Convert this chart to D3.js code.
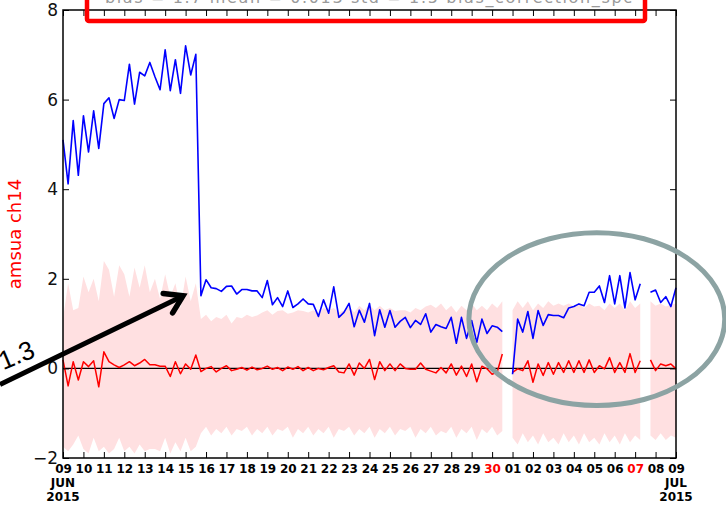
<!DOCTYPE html>
<html>
<head>
<meta charset="utf-8">
<script src="https://cdn.jsdelivr.net/npm/d3@7"></script>
<style>
  html, body { margin: 0; padding: 0; background: #ffffff; }
  svg { display: block; }
</style>
</head>
<body>
<svg id="chart" width="726" height="505"></svg>
<script>
// ---- data: 6-hourly values, 09 Jun 00Z .. 09 Jul 00Z (null = no data) ----
const stepHours = 6;
const startTime = Date.UTC(2015, 5, 9, 0);

// blue trace
const biasValues = [
  5.10, 4.12, 5.53, 4.31, 5.64, 4.83, 5.75, 4.91, 5.91, 6.04,
  5.58, 6.00, 5.98, 6.79, 5.90, 6.61, 6.53, 6.83, 6.51, 6.22,
  7.11, 6.20, 6.89, 6.14, 7.20, 6.55, 7.01, 1.62, 1.98, 1.80,
  1.78, 1.72, 1.83, 1.84, 1.66, 1.76, 1.76, 1.73, 1.73, 1.58,
  1.96, 1.42, 1.58, 1.38, 1.73, 1.36, 1.44, 1.55, 1.44, 1.43,
  1.16, 1.53, 1.23, 1.82, 1.14, 1.25, 1.45, 0.93, 1.30, 1.03,
  1.45, 0.73, 1.31, 0.92, 1.29, 0.92, 1.05, 1.14, 0.91, 1.07,
  0.98, 1.22, 0.81, 0.98, 0.93, 0.89, 1.14, 0.56, 1.14, 0.67,
  1.07, 0.58, 1.10, 0.78, 0.95, 0.92, 0.82, null, -0.13, 1.10,
  0.81, 1.27, 0.67, 1.29, 0.96, 1.20, 1.18, 1.18, 1.13, 1.35,
  1.38, 1.44, 1.40, 1.70, 1.70, 1.84, 1.47, 2.07, 1.44, 2.07,
  1.35, 2.14, 1.53, 1.89, null, 1.70, 1.75, 1.47, 1.60, 1.38,
  1.80
];

// red trace
const meanValues = [
  0.19, -0.39, 0.15, -0.26, 0.15, 0.04, 0.17, -0.41, 0.37, 0.15,
  0.08, 0.02, 0.08, 0.15, 0.06, 0.12, 0.20, 0.08, 0.08, 0.05,
  0.05, -0.18, 0.15, -0.12, 0.10, -0.02, 0.30, -0.07, 0.00, 0.04,
  -0.08, 0.00, 0.06, -0.05, -0.02, 0.02, -0.04, 0.03, -0.03, 0.00,
  0.05, -0.02, 0.02, -0.05, 0.03, -0.02, 0.04, -0.05, 0.02, -0.05,
  0.00, -0.03, 0.02, 0.06, -0.08, -0.10, 0.10, -0.15, 0.12, 0.00,
  0.20, -0.25, 0.15, -0.05, 0.10, -0.05, 0.10, 0.00, -0.02, -0.02,
  0.12, -0.02, -0.06, -0.10, 0.02, -0.10, 0.10, -0.15, 0.05, -0.18,
  0.10, -0.30, 0.05, -0.01, -0.13, -0.08, 0.32, null, -0.09, -0.01,
  -0.05, 0.17, -0.31, 0.10, -0.16, 0.13, -0.13, 0.13, -0.09, 0.17,
  -0.09, 0.17, -0.09, 0.19, -0.09, 0.06, -0.01, 0.24, -0.09, 0.13,
  -0.09, 0.33, -0.09, 0.17, null, 0.19, -0.05, 0.10, 0.06, 0.10,
  -0.01
];

// shaded spread: upper and lower edges
const spreadUpper = [
  1.10, 1.90, 1.30, 1.35, 2.05, 1.70, 2.00, 1.50, 2.40, 2.20,
  1.60, 2.30, 2.10, 1.60, 2.25, 1.80, 2.30, 1.70, 2.00, 1.55,
  2.10, 1.60, 1.90, 1.35, 2.05, 1.50, 1.90, 1.10, 1.20, 1.05,
  1.15, 1.10, 1.20, 1.00, 1.15, 1.12, 1.20, 1.15, 1.18, 1.25,
  1.30, 1.20, 1.28, 1.30, 1.22, 1.25, 1.30, 1.28, 1.25, 1.30,
  1.22, 1.35, 1.30, 1.35, 1.25, 1.30, 1.38, 1.25, 1.40, 1.30,
  1.42, 1.30, 1.40, 1.30, 1.35, 1.28, 1.30, 1.30, 1.25, 1.35,
  1.30, 1.38, 1.42, 1.35, 1.45, 1.30, 1.40, 1.25, 1.40, 1.30,
  1.45, 1.30, 1.40, 1.30, 1.45, 1.35, 1.50, null, 1.30, 1.50,
  1.35, 1.50, 1.30, 1.45, 1.35, 1.50, 1.40, 1.45, 1.40, 1.45,
  1.38, 1.45, 1.35, 1.45, 1.38, 1.40, 1.30, 1.45, 1.35, 1.45,
  1.30, 1.50, 1.35, 1.45, null, 1.50, 1.40, 1.45, 1.38, 1.42,
  1.45
];
const spreadLower = [
  -1.75, -1.85, -1.70, -1.50, -1.80, -1.90, -1.55, -1.85, -1.75, -1.90,
  -1.80, -1.55, -1.85, -1.75, -1.90, -1.70, -1.85, -1.80, -1.80, -1.85,
  -1.55, -1.90, -1.65, -1.85, -1.55, -1.85, -1.75, -1.45, -1.30, -1.50,
  -1.35, -1.45, -1.30, -1.50, -1.35, -1.40, -1.30, -1.50, -1.35, -1.45,
  -1.30, -1.50, -1.35, -1.40, -1.30, -1.55, -1.35, -1.45, -1.30, -1.50,
  -1.35, -1.45, -1.30, -1.55, -1.35, -1.40, -1.30, -1.50, -1.35, -1.45,
  -1.30, -1.55, -1.35, -1.45, -1.30, -1.50, -1.35, -1.40, -1.30, -1.55,
  -1.35, -1.45, -1.30, -1.50, -1.40, -1.45, -1.30, -1.55, -1.35, -1.45,
  -1.30, -1.60, -1.35, -1.45, -1.30, -1.50, -1.40, null, -1.55, -1.70,
  -1.45, -1.65, -1.50, -1.70, -1.45, -1.65, -1.55, -1.70, -1.45, -1.65,
  -1.50, -1.70, -1.45, -1.65, -1.55, -1.70, -1.45, -1.65, -1.50, -1.70,
  -1.45, -1.65, -1.50, -1.60, null, -1.50, -1.60, -1.45, -1.60, -1.50,
  -1.55
];

// axis ticks and labels
const yTicks = [-2, 0, 2, 4, 6, 8];
const dayTickDates = [
  "2015-06-09","2015-06-10","2015-06-11","2015-06-12","2015-06-13","2015-06-14",
  "2015-06-15","2015-06-16","2015-06-17","2015-06-18","2015-06-19","2015-06-20",
  "2015-06-21","2015-06-22","2015-06-23","2015-06-24","2015-06-25","2015-06-26",
  "2015-06-27","2015-06-28","2015-06-29","2015-06-30","2015-07-01","2015-07-02",
  "2015-07-03","2015-07-04","2015-07-05","2015-07-06","2015-07-07","2015-07-08",
  "2015-07-09"
];
const redTickDates = ["2015-06-30", "2015-07-07"];
const monthTickLabels = [
  { date: "2015-06-09", lines: ["JUN", "2015"] },
  { date: "2015-07-09", lines: ["JUL", "2015"] }
];
const yAxisLabel = "amsua ch14";
const headerText = "bias = 1.7     mean = 0.013     std = 1.5     bias_correction_spc";
const arrowLabel = "1.3";

// ---- layout ----
const plot = { left: 63, right: 676, top: 10, bottom: 458 };
const svg = d3.select("#chart");

const parseDay = d3.utcParse("%Y-%m-%d");
const dayDates = dayTickDates.map(parseDay);

const x = d3.scaleUtc()
  .domain([parseDay("2015-06-09"), parseDay("2015-07-09")])
  .range([plot.left, plot.right]);
const y = d3.scaleLinear().domain([-2, 8]).range([plot.bottom, plot.top]);

const timeAt = i => new Date(startTime + i * stepHours * 3600 * 1000);
const rows = biasValues.map((b, i) => ({
  t: timeAt(i), bias: b, mean: meanValues[i], hi: spreadUpper[i], lo: spreadLower[i]
}));

// ---- spread band ----
const band = d3.area()
  .defined(d => d.hi != null && d.lo != null)
  .x(d => x(d.t))
  .y0(d => y(d.lo))
  .y1(d => y(d.hi));
svg.append("path").datum(rows)
  .attr("d", band)
  .attr("fill", "#ffe0e1")
  .attr("stroke", "none");

// zero line
svg.append("line")
  .attr("x1", plot.left).attr("x2", plot.right)
  .attr("y1", y(0)).attr("y2", y(0))
  .attr("stroke", "#000").attr("stroke-width", 1.4);

// ---- traces ----
const lineOf = key => d3.line()
  .defined(d => d[key] != null)
  .x(d => x(d.t))
  .y(d => y(d[key]));

svg.append("path").datum(rows)
  .attr("d", lineOf("mean"))
  .attr("fill", "none").attr("stroke", "#ff0000")
  .attr("stroke-width", 1.5).attr("stroke-linejoin", "round");

svg.append("path").datum(rows)
  .attr("d", lineOf("bias"))
  .attr("fill", "none").attr("stroke", "#0000ff")
  .attr("stroke-width", 1.6).attr("stroke-linejoin", "round");

// ---- axes ----
const tickLen = 6;
const axisBottom = d3.axisBottom(x).tickValues(dayDates).tickSizeInner(-tickLen).tickSizeOuter(0)
  .tickPadding(6).tickFormat(d3.utcFormat("%d"));
const gx = svg.append("g").attr("transform", `translate(0,${plot.bottom})`).call(axisBottom);
gx.select(".domain").remove();
gx.selectAll("line").attr("stroke", "#000").attr("stroke-width", 1);
gx.selectAll("text")
  .attr("font-family", "DejaVu Sans, sans-serif")
  .attr("font-size", 12)
  .attr("font-weight", "bold")
  .attr("fill", d => redTickDates.includes(d3.utcFormat("%Y-%m-%d")(d)) ? "#ff0000" : "#000");

const axisTop = d3.axisTop(x).tickValues(dayDates).tickSizeInner(-tickLen).tickSizeOuter(0).tickFormat("");
const gxt = svg.append("g").attr("transform", `translate(0,${plot.top})`).call(axisTop);
gxt.select(".domain").remove();
gxt.selectAll("line").attr("stroke", "#000").attr("stroke-width", 1);

const axisLeft = d3.axisLeft(y).tickValues(yTicks).tickSizeInner(-tickLen).tickSizeOuter(0).tickPadding(5);
const gy = svg.append("g").attr("transform", `translate(${plot.left},0)`).call(axisLeft);
gy.select(".domain").remove();
gy.selectAll("line").attr("stroke", "#000").attr("stroke-width", 1);
gy.selectAll("text")
  .attr("font-family", "DejaVu Sans, sans-serif")
  .attr("font-size", 17)
  .attr("fill", "#111");

const axisRight = d3.axisRight(y).tickValues(yTicks).tickSizeInner(-tickLen).tickSizeOuter(0).tickFormat("");
const gyr = svg.append("g").attr("transform", `translate(${plot.right},0)`).call(axisRight);
gyr.select(".domain").remove();
gyr.selectAll("line").attr("stroke", "#000").attr("stroke-width", 1);

// month / year labels under the end ticks
monthTickLabels.forEach(m => {
  const t = svg.append("text")
    .attr("x", x(parseDay(m.date)))
    .attr("y", plot.bottom + 29)
    .attr("text-anchor", "middle")
    .attr("font-family", "DejaVu Sans, sans-serif")
    .attr("font-size", 12)
    .attr("font-weight", "bold")
    .attr("fill", "#000");
  m.lines.forEach((s, k) => t.append("tspan")
    .attr("x", x(parseDay(m.date)))
    .attr("dy", k === 0 ? 0 : 14)
    .text(s));
});

// frame
svg.append("rect")
  .attr("x", plot.left).attr("y", plot.top)
  .attr("width", plot.right - plot.left).attr("height", plot.bottom - plot.top)
  .attr("fill", "none").attr("stroke", "#000").attr("stroke-width", 1.5);

// y-axis title
svg.append("text")
  .attr("transform", `translate(21,${(plot.top + plot.bottom) / 2 - 0}) rotate(-90)`)
  .attr("text-anchor", "middle")
  .attr("font-family", "DejaVu Sans, sans-serif")
  .attr("font-size", 18)
  .attr("fill", "#ff0000")
  .text(yAxisLabel);

// header line (runs off the top edge)
svg.append("text")
  .attr("x", 105).attr("y", 3)
  .attr("font-family", "DejaVu Sans, sans-serif")
  .attr("font-size", 16)
  .attr("fill", "#9a9a9a")
  .attr("textLength", 527)
  .text(headerText);

// highlight box around the header
svg.append("rect")
  .attr("x", 87).attr("y", -20)
  .attr("width", 558).attr("height", 41)
  .attr("rx", 2)
  .attr("fill", "none").attr("stroke", "#ff0000").attr("stroke-width", 4.5);

// ---- annotations ----
// ellipse around the early-July recovery
const ellCenter = { t: Date.UTC(2015, 6, 5, 3), v: 1.1 };
const ellSpan = { days: 6.26, v: 1.93 };
const cx = x(new Date(ellCenter.t)), cy = y(ellCenter.v);
const rx = x(new Date(ellCenter.t + ellSpan.days * 864e5)) - cx;
const ry = y(0) - y(ellSpan.v);
svg.append("ellipse")
  .attr("cx", cx).attr("cy", cy).attr("rx", rx).attr("ry", ry)
  .attr("fill", "none").attr("stroke", "#8ca3a3").attr("stroke-width", 5);

// arrow pointing at the spread on 15 Jun
const arrowTail = { t: Date.UTC(2015, 5, 5, 22), v: -0.36 };
const arrowTip = { t: Date.UTC(2015, 5, 14, 21), v: 1.62 };
const tx0 = x(new Date(arrowTail.t)), ty0 = y(arrowTail.v);
const tx1 = x(new Date(arrowTip.t)), ty1 = y(arrowTip.v);
const ang = Math.atan2(ty1 - ty0, tx1 - tx0);
svg.append("line")
  .attr("x1", tx0).attr("y1", ty0)
  .attr("x2", tx1 - 3 * Math.cos(ang)).attr("y2", ty1 - 3 * Math.sin(ang))
  .attr("stroke", "#000").attr("stroke-width", 5);
const headLen = 20, headAng = Math.PI / 5.5;
const wing = s => [tx1 - headLen * Math.cos(ang + s * headAng), ty1 - headLen * Math.sin(ang + s * headAng)];
svg.append("path")
  .attr("d", d3.line()([wing(1), [tx1, ty1], wing(-1)]))
  .attr("fill", "none").attr("stroke", "#000").attr("stroke-width", 5.5)
  .attr("stroke-linejoin", "miter").attr("stroke-linecap", "round");

// label on the arrow
const lblAnchor = { t: Date.UTC(2015, 5, 7, 17), v: 0.27 };
svg.append("text")
  .attr("transform", `translate(${x(new Date(lblAnchor.t))},${y(lblAnchor.v)}) rotate(${ang * 180 / Math.PI + 3})`)
  .attr("text-anchor", "end")
  .attr("font-family", "Liberation Sans, Arial, sans-serif")
  .attr("font-size", 26)
  .attr("fill", "#000")
  .text(arrowLabel);
</script>
</body>
</html>
